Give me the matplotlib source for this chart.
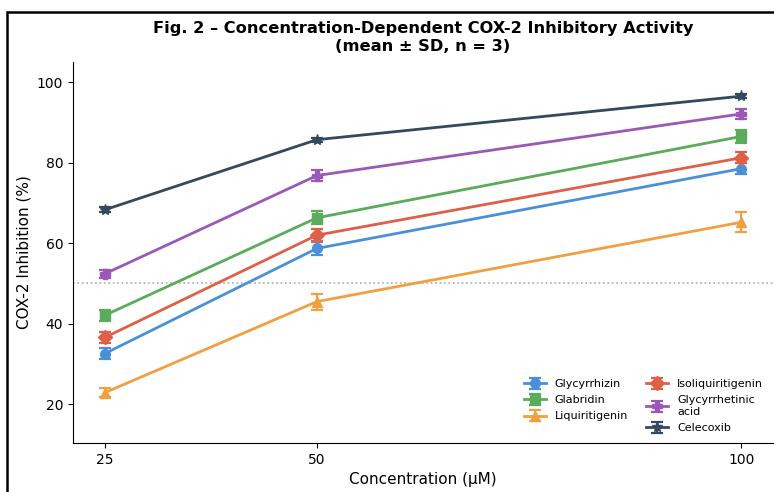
import matplotlib
matplotlib.use("Agg")
import matplotlib.pyplot as plt
from matplotlib.patches import Rectangle

# ── data ──────────────────────────────────────────────────────────────────────
CONC = [25, 50, 100]

COMPOUNDS = ["Glycyrrhizin", "Glabridin", "Liquiritigenin",
             "Isoliquiritigenin", "Glycyrrhetinic\nacid", "Celecoxib"]

glycyrrhizin      = [32.6, 58.7, 78.5]
glabridin         = [42.1, 66.3, 86.5]
liquiritigenin    = [22.9, 45.5, 65.2]
isoliquiritigenin = [36.6, 62.0, 81.2]
glycyrrhetinic    = [52.4, 76.8, 92.1]
celecoxib         = [68.3, 85.7, 96.5]

glycyrrhizin_sd      = [1.3, 1.6, 1.4]
glabridin_sd         = [1.4, 1.6, 1.5]
liquiritigenin_sd    = [1.2, 2.0, 2.5]
isoliquiritigenin_sd = [1.4, 1.5, 1.4]
glycyrrhetinic_sd    = [1.0, 1.3, 1.2]
celecoxib_sd         = [0.6, 0.5, 0.5]

MEANS = [glycyrrhizin, glabridin, liquiritigenin,
         isoliquiritigenin, glycyrrhetinic, celecoxib]
SDS   = [glycyrrhizin_sd, glabridin_sd, liquiritigenin_sd,
         isoliquiritigenin_sd, glycyrrhetinic_sd, celecoxib_sd]

# ── style ─────────────────────────────────────────────────────────────────────
COLORS  = ["#4a90d9", "#5aab5a", "#f0a040", "#de6048", "#9b59b6", "#34495e"]
MARKERS = ["o", "s", "^", "D", "P", "*"]
MSIZES  = [7, 7, 7, 7, 7, 8]

fig = plt.figure(figsize=(7.74, 4.92), dpi=100)
ax = fig.add_axes([0.0943, 0.0996, 0.9044, 0.7745])

# figure frame (cropped at right/bottom like the reference)
fig.patches.append(Rectangle((7 / 774, -0.1), 1.2, 0.1 + (1 - 12 / 492),
                             transform=fig.transFigure, fill=False,
                             edgecolor="black", linewidth=1.8, zorder=10))

for name, m, sd, c, mk, ms in zip(COMPOUNDS, MEANS, SDS, COLORS, MARKERS, MSIZES):
    ax.errorbar(CONC, m, yerr=sd, color=c, marker=mk, markersize=ms,
                linewidth=2, elinewidth=1.6, capsize=4, capthick=1.6,
                label=name)

ax.axhline(50, color="#aaaaaa", linestyle=":", linewidth=1.2, zorder=0)

ax.set_xlim(21.25, 103.75)
ax.set_ylim(10.4, 105)
ax.set_xticks(CONC)
ax.set_yticks([20, 40, 60, 80, 100])
ax.tick_params(labelsize=10)
ax.spines["top"].set_visible(False)
ax.spines["right"].set_visible(False)

ax.set_xlabel("Concentration (µM)", fontsize=11)
ax.set_ylabel("COX-2 Inhibition (%)", fontsize=11)
ax.set_title("Fig. 2 – Concentration-Dependent COX-2 Inhibitory Activity\n"
             "(mean ± SD, n = 3)", fontsize=11.7, fontweight="bold", pad=8)

ax.legend(ncol=2, loc="lower right", frameon=False, fontsize=8,
          bbox_to_anchor=(1.0, 0.0), handlelength=2, columnspacing=1.6,
          labelspacing=0.55)

plt.savefig("out.png", dpi=100)
